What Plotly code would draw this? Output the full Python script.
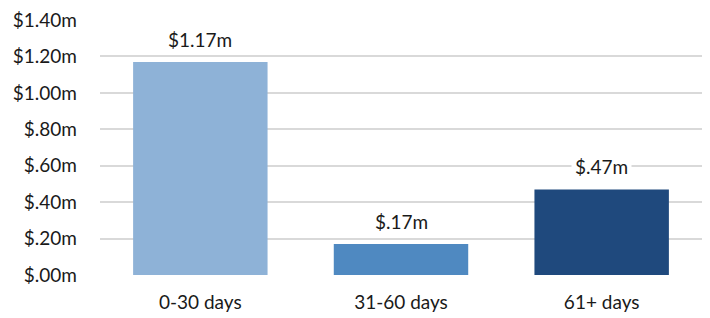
import plotly.graph_objects as go

categories = ["0-30 days", "31-60 days", "61+ days"]
values = [1.17, 0.17, 0.47]
value_labels = ["$1.17m", "$.17m", "$.47m"]
colors = ["#8EB2D7", "#4F89C1", "#1F497D"]
tick_vals = [0, 0.2, 0.4, 0.6, 0.8, 1.0, 1.2, 1.4]
tick_text = ["$.00m", "$.20m", "$.40m", "$.60m", "$.80m", "$1.00m", "$1.20m", "$1.40m"]

FONT = "Lato, Open Sans, sans-serif"
FS = 19

fig = go.Figure(go.Bar(
    x=categories, y=values, marker=dict(color=colors, line=dict(width=0)),
    width=0.67, hoverinfo="skip"))

for c, v, t in zip(categories, values, value_labels):
    fig.add_annotation(x=c, y=v, text=t, showarrow=False, yanchor="bottom", yshift=7,
                       bgcolor="white", borderpad=3,
                       font=dict(family=FONT, size=FS, color="#1a1a1a"))

fig.update_layout(
    width=710, height=318, margin=dict(l=100, r=8, t=20, b=43, autoexpand=False),
    paper_bgcolor="white", plot_bgcolor="white", showlegend=False,
    font=dict(family=FONT, size=FS, color="#1a1a1a"),
    xaxis=dict(showline=False, ticks="", tickfont=dict(size=FS), showgrid=False,
               automargin=False, ticklabelstandoff=14),
    yaxis=dict(range=[0, 1.4], tickvals=tick_vals, ticktext=tick_text,
               showgrid=True, gridcolor="#D9D9D9", gridwidth=1.5, zeroline=False,
               showline=False, ticks="", ticklabelstandoff=22, tickfont=dict(size=FS),
               automargin=False),
)
fig.write_html("out.html", config={"displayModeBar": False},
               post_script="document.body.style.margin='0';")
